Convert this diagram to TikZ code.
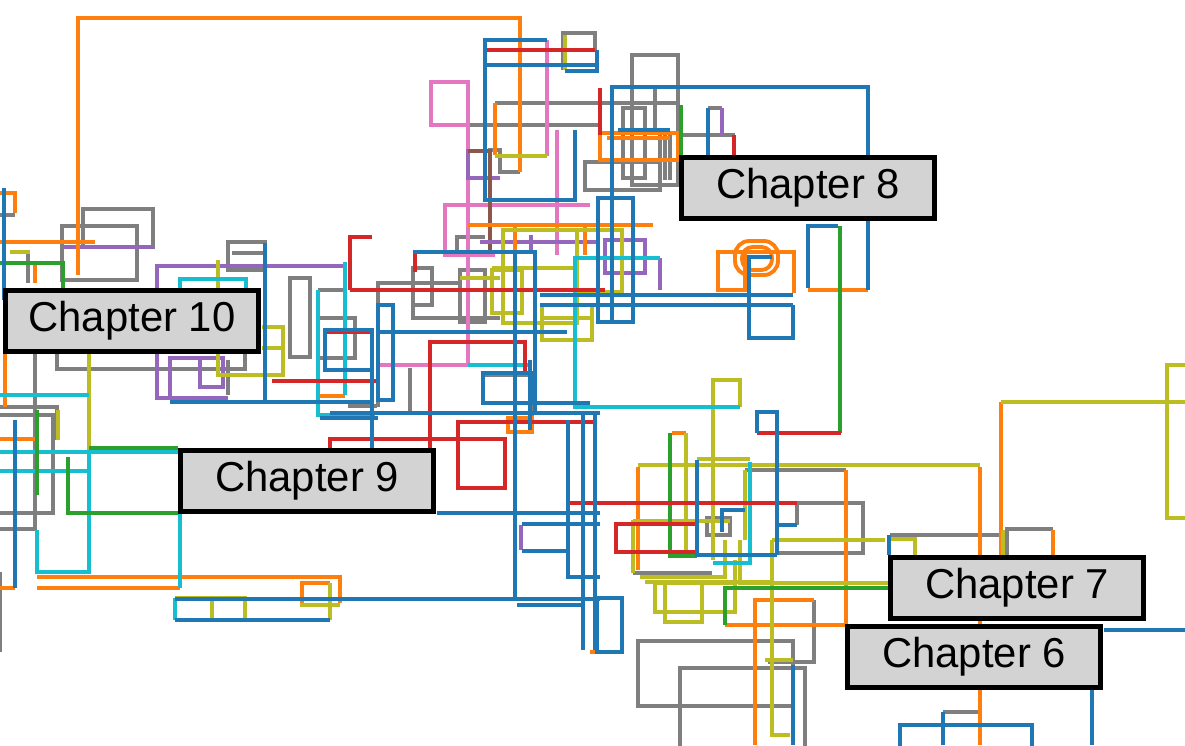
\documentclass[tikz,border=0pt]{standalone}
\usepackage{fontspec}
\setsansfont{Liberation Sans}
\definecolor{tabblue}{HTML}{1F77B4}
\definecolor{taborange}{HTML}{FF7F0E}
\definecolor{tabgreen}{HTML}{2CA02C}
\definecolor{tabred}{HTML}{D62728}
\definecolor{tabpurple}{HTML}{9467BD}
\definecolor{tabbrown}{HTML}{8C564B}
\definecolor{tabpink}{HTML}{E377C2}
\definecolor{tabgray}{HTML}{7F7F7F}
\definecolor{tabolive}{HTML}{BCBD22}
\definecolor{tabcyan}{HTML}{17BECF}
\definecolor{chapfill}{HTML}{D3D3D3}
\tikzset{
  boxline/.style={line width=2.2pt},
  fblue/.style={boxline,draw=tabblue},
  forange/.style={boxline,draw=taborange},
  fgreen/.style={boxline,draw=tabgreen},
  fred/.style={boxline,draw=tabred},
  fpurple/.style={boxline,draw=tabpurple},
  fbrown/.style={boxline,draw=tabbrown},
  fpink/.style={boxline,draw=tabpink},
  fgray/.style={boxline,draw=tabgray},
  folive/.style={boxline,draw=tabolive},
  fcyan/.style={boxline,draw=tabcyan},
}
\begin{document}
\begin{tikzpicture}[x=0.02cm,y=-0.02cm,
    chapter/.style={draw=black,line width=2.5pt,fill=chapfill,minimum width=5.06cm,
      minimum height=1.22cm,inner sep=0pt,font=\sffamily\fontsize{23.8}{28}\selectfont}]
  \useasboundingbox (0,0) rectangle (1185,745);
  \clip (0,0) rectangle (1185,745);

  % gray
  \draw[fgray] (563,70) -- (563,33) -- (595,33) -- (595,50);
  \draw[fgray] (495,103) -- (680,103);
  \draw[fgray] (431,125) -- (600,125);
  \draw[fgray] (490,175) -- (490,150) -- (500,150) -- (500,172) -- (520,172);
  \draw[fgray] (585,162) rectangle (660,190);
  \draw[fgray] (632,55) rectangle (678,185);
  \draw[fgray] (623,108) rectangle (645,178);
  \draw[fgray] (655,87) -- (655,130);
  \draw[fgray] (680,135) -- (735,135);
  \draw[fgray] (708,108) -- (722,108);
  \foreach \xh in {660,665,670} \draw[fgray] (\xh,133) -- (\xh,180);
  \draw[fgray] (83,209) rectangle (153,247);
  \draw[fgray] (62,226) rectangle (137,280);
  \draw[fgray] (228,242) rectangle (265,270);
  \draw[fgray] (232,253) -- (265,253);
  \draw[fgray] (28,250) -- (28,283);
  \draw[fgray] (0,215) -- (15,215);
  \draw[fgray] (57,353) -- (57,369) -- (245,369) -- (245,353);
  \draw[fgray] (0,529) -- (35,529) -- (35,353);
  \draw[fgray] (0,415) -- (53,415) -- (53,513) -- (0,513);
  \draw[fgray] (0,407) -- (57,407) -- (57,440);
  \draw[fgray] (290,278) rectangle (310,357);
  \draw[fgray] (228,360) -- (228,395);
  \draw[fgray] (318,318) rectangle (355,358);
  \draw[fgray] (318,290) -- (345,290);
  \draw[fgray] (348,406) -- (377,406);
  \draw[fgray] (378,407) -- (378,283) -- (460,283);
  \draw[fgray] (413,268) rectangle (432,305);
  \draw[fgray] (413,305) -- (413,318) -- (500,318);
  \draw[fgray] (460,270) rectangle (485,322);
  \draw[fgray] (457,250) -- (457,237) -- (485,237);
  \draw[fgray] (483,403) -- (483,375) -- (532,375) -- (532,430);
  \draw[fgray] (410,368) -- (410,413);
  \draw[fgray] (797,525) -- (797,503) -- (863,503) -- (863,553) -- (775,553);
  \draw[fgray] (707,518) rectangle (730,535);
  \draw[fgray] (633,573) -- (712,573);
  \draw[fgray] (814,600) -- (814,662) -- (768,662);
  \draw[fgray] (638,641) rectangle (793,706);
  \draw[fgray] (680,668) rectangle (805,760);
  \draw[fgray] (890,535) -- (1000,535);
  \draw[fgray] (1007,555) -- (1007,529) -- (1053,529);
  \draw[fgray] (980,690) -- (980,712) -- (943,712);
  \draw[fgray] (0,572) -- (0,652);
  \draw[fgray] (745,470) -- (846,470);

  % pink
  \draw[fpink] (431,82) rectangle (468,125);
  \draw[fpink] (468,125) -- (468,365) -- (378,365);
  \draw[fpink] (547,40) -- (547,156);
  \draw[fpink] (557,130) -- (557,255);
  \draw[fpink] (495,255) -- (445,255) -- (445,205) -- (590,205);

  % purple and brown
  \draw[fpurple] (490,151) -- (468,151) -- (468,178) -- (500,178);
  \draw[fbrown] (468,151) -- (490,151) -- (490,250);
  \draw[fpurple] (722,108) -- (722,135);
  \draw[fpurple] (63,247) -- (153,247);
  \draw[fpurple] (228,398) -- (157,398) -- (157,266) -- (345,266) -- (345,290);
  \draw[fpurple] (225,358) -- (170,358) -- (170,398);
  \draw[fpurple] (200,358) rectangle (223,387);
  \draw[fpurple] (480,242) -- (600,242);
  \draw[fpurple] (531,235) -- (531,250);
  \draw[fpurple] (605,240) rectangle (645,273);
  \draw[fpurple] (660,258) -- (660,290);
  \draw[fpurple] (521,525) -- (521,550);

  % orange
  \draw[forange] (78,275) -- (78,18) -- (520,18) -- (520,172);
  \draw[forange] (0,242) -- (95,242);
  \draw[forange] (0,193) -- (15,193) -- (15,213);
  \draw[forange] (35,263) -- (35,283);
  \draw[forange] (5,353) -- (5,407);
  \draw[forange] (0,439) -- (35,439);
  \draw[forange] (37,577) -- (340,577) -- (340,603);
  \draw[forange] (37,588) -- (180,588);
  \draw[forange] (0,588) -- (15,588);
  \draw[forange] (302,605) -- (302,583) -- (330,583);
  \draw[forange] (600,133) rectangle (678,160);
  \draw[forange] (607,138) -- (670,138);
  \draw[forange] (718,252) rectangle (745,290);
  \draw[forange] (718,252) -- (794,252) -- (794,293);
  \draw[forange,rounded corners=8pt] (735,241) rectangle (778,275);
  \draw[forange,rounded corners=6pt] (742,247) rectangle (772,270);
  \draw[forange] (808,290) -- (868,290);
  \draw[forange] (672,433) -- (686,433);
  \draw[forange] (638,467) -- (638,570);
  \draw[forange] (846,470) -- (846,625) -- (725,625);
  \draw[forange] (980,467) -- (980,745);
  \draw[forange] (1001,555) -- (1001,402);
  \draw[forange] (1053,530) -- (1053,555);
  \draw[forange] (755,745) -- (755,600) -- (814,600);
  \draw[forange] (590,652) -- (617,652);
  \draw[forange] (468,225) -- (653,225);
  \draw[forange] (515,225) -- (515,255);
  \draw[forange] (585,225) -- (585,255);
  \draw[forange] (495,103) -- (495,155);
  \draw[forange] (508,418) rectangle (532,432);
  \draw[forange] (320,396) -- (345,396);

  % olive
  \draw[folive] (565,35) -- (565,70);
  \draw[folive] (495,156) -- (547,156);
  \draw[folive] (503,230) rectangle (577,323);
  \draw[folive] (577,230) -- (622,230) -- (622,292) -- (577,292);
  \draw[folive] (492,270) rectangle (522,313);
  \draw[folive] (492,268) -- (577,268);
  \draw[folive] (542,305) rectangle (592,340);
  \draw[folive] (542,318) -- (592,318);
  \draw[folive] (460,278) -- (500,278);
  \draw[folive] (218,260) -- (218,290);
  \draw[folive] (218,353) -- (218,375) -- (283,375) -- (283,327) -- (262,327);
  \draw[folive] (262,348) -- (283,348);
  \draw[folive] (89,353) -- (89,470);
  \draw[folive] (58,410) -- (58,440);
  \draw[folive] (10,252) -- (30,252);
  \draw[folive] (175,598) -- (245,598) -- (245,620);
  \draw[folive] (212,598) -- (212,620);
  \draw[folive] (300,605) -- (340,605);
  \draw[folive] (330,583) -- (330,620);
  \draw[folive] (713,560) -- (713,380) -- (740,380) -- (740,407);
  \draw[folive] (686,433) -- (686,555);
  \draw[folive] (638,465) -- (980,465);
  \draw[folive] (697,459) -- (750,459);
  \draw[folive] (745,470) -- (745,540);
  \draw[folive] (1001,402) -- (1185,402);
  \draw[folive] (1190,365) -- (1167,365) -- (1167,518) -- (1190,518);
  \draw[folive] (633,521) -- (730,521);
  \draw[folive] (633,520) -- (633,573);
  \draw[folive] (725,540) -- (725,577) -- (640,577);
  \draw[folive] (645,582) -- (770,582);
  \draw[folive] (740,540) -- (740,583) -- (890,583);
  \draw[folive] (655,583) rectangle (735,612);
  \draw[folive] (665,583) rectangle (702,622);
  \draw[folive] (735,560) -- (735,583);
  \draw[folive] (772,540) -- (885,540);
  \draw[folive] (772,540) -- (772,735) -- (790,735);
  \draw[folive] (765,660) -- (793,660);
  \draw[folive] (890,539) -- (915,539) -- (915,555);
  \draw[folive] (1003,530) -- (1003,555);

  % cyan
  \draw[fcyan] (180,290) -- (180,279) -- (246,279) -- (246,290);
  \draw[fcyan] (0,395) -- (89,395);
  \draw[fcyan] (0,452) -- (178,452);
  \draw[fcyan] (0,471) -- (89,471);
  \draw[fcyan] (89,452) -- (89,572) -- (37,572) -- (37,530);
  \draw[fcyan] (180,452) -- (180,588);
  \draw[fcyan] (345,262) -- (345,395);
  \draw[fcyan] (318,290) -- (318,415) -- (375,415);
  \draw[fcyan] (468,365) -- (530,365);
  \draw[fcyan] (740,407) -- (575,407) -- (575,258) -- (660,258);
  \draw[fcyan] (750,462) -- (750,563) -- (713,563);
  \draw[fcyan] (175,598) -- (175,620);

  % green
  \draw[fgreen] (681,105) -- (681,155);
  \draw[fgreen] (840,226) -- (840,433);
  \draw[fgreen] (0,263) -- (63,263) -- (63,290);
  \draw[fgreen] (37,410) -- (37,495);
  \draw[fgreen] (89,448) -- (178,448);
  \draw[fgreen] (68,457) -- (68,513) -- (178,513);
  \draw[fgreen] (670,433) -- (670,556) -- (697,556);
  \draw[fgreen] (890,588) -- (725,588) -- (725,625);

  % red
  \draw[fred] (485,50) -- (595,50);
  \draw[fred] (600,88) -- (600,135);
  \draw[fred] (734,135) -- (734,155);
  \draw[fred] (350,290) -- (350,237) -- (372,237);
  \draw[fred] (350,290) -- (605,290);
  \draw[fred] (415,252) -- (415,272);
  \draw[fred] (325,332) -- (372,332);
  \draw[fred] (272,381) -- (377,381);
  \draw[fred] (430,448) -- (430,342) -- (525,342) -- (525,375);
  \draw[fred] (330,448) -- (330,439) -- (505,439) -- (505,488) -- (458,488) -- (458,422) -- (595,422);
  \draw[fred] (757,433) -- (841,433);
  \draw[fred] (570,503) -- (797,503);
  \draw[fred] (616,524) rectangle (697,552);

  % blue
  \draw[fblue] (4,188) -- (4,300);
  \draw[fblue] (547,40) -- (485,40) -- (485,200) -- (575,200) -- (575,130);
  \draw[fblue] (485,65) -- (597,65);
  \draw[fblue] (565,71) -- (597,71) -- (597,50);
  \draw[fblue] (612,320) -- (612,87) -- (868,87) -- (868,290);
  \draw[fblue] (618,130) -- (670,130);
  \draw[fblue] (598,198) rectangle (633,322);
  \draw[fblue] (708,108) -- (708,155);
  \draw[fblue] (808,288) -- (808,226) -- (838,226);
  \draw[fblue] (772,257) -- (749,257) -- (749,338) -- (793,338) -- (793,305);
  \draw[fblue] (540,295) -- (793,295);
  \draw[fblue] (540,305) -- (793,305);
  \draw[fblue] (757,433) -- (757,412) -- (777,412) -- (777,555);
  \draw[fblue] (697,460) -- (697,555) -- (777,555);
  \draw[fblue] (745,510) -- (722,510) -- (722,532);
  \draw[fblue] (775,525) -- (797,525);
  \draw[fblue] (793,665) -- (793,745);
  \draw[fblue] (597,598) rectangle (622,652);
  \draw[fblue] (583,415) -- (583,650);
  \draw[fblue] (595,415) -- (595,650);
  \draw[fblue] (175,599) -- (600,599);
  \draw[fblue] (517,605) -- (585,605);
  \draw[fblue] (437,513) -- (600,513);
  \draw[fblue] (515,250) -- (515,600);
  \draw[fblue] (522,524) -- (600,524);
  \draw[fblue] (522,551) -- (568,551);
  \draw[fblue] (568,420) -- (568,577) -- (600,577);
  \draw[fblue] (175,620) -- (330,620);
  \draw[fblue] (1092,690) -- (1092,745);
  \draw[fblue] (1104,630) -- (1185,630);
  \draw[fblue] (900,725) rectangle (1032,760);
  \draw[fblue] (943,712) -- (943,745);
  \draw[fblue] (889,535) -- (889,555);
  \draw[fblue] (15,420) -- (15,588);
  \draw[fblue] (265,243) -- (265,402);
  \draw[fblue] (170,402) -- (300,402);
  \draw[fblue] (325,330) rectangle (372,370);
  \draw[fblue] (300,402) -- (372,402);
  \draw[fblue] (372,330) -- (372,448);
  \draw[fblue] (320,418) -- (378,418);
  \draw[fblue] (378,305) rectangle (393,400);
  \draw[fblue] (413,252) -- (535,252) -- (535,413);
  \draw[fblue] (378,332) -- (567,332);
  \draw[fblue] (483,373) rectangle (533,403);
  \draw[fblue] (330,413) -- (600,413);
  \draw[fblue] (533,403) -- (590,403);
  \draw[fblue] (530,360) -- (530,430);

  % labels
  \node[chapter,anchor=center] at (808,188) (ch8) {Chapter 8};
  \node[chapter,anchor=center] at (132,321) (ch10) {Chapter 10};
  \node[chapter,anchor=center] at (307,481) (ch9) {Chapter 9};
  \node[chapter,anchor=center] at (1017,588) (ch7) {Chapter 7};
  \node[chapter,anchor=center] at (974,657) (ch6) {Chapter 6};
\end{tikzpicture}
\end{document}
